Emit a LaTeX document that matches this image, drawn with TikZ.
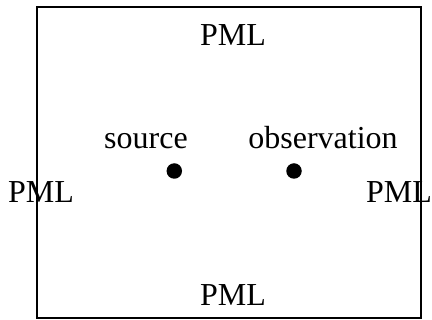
\documentclass[tikz,border=0pt]{standalone}
\usepackage{fontspec}
\setmainfont{Liberation Serif}
\begin{document}
\begin{tikzpicture}[x=1pt,y=-1pt,
  lbl/.style={anchor=base,inner sep=0pt,font=\fontsize{32}{36}\selectfont},
  pt/.style={circle,fill=black,inner sep=0pt,minimum size=15.5pt}]
\useasboundingbox (0,0) rectangle (432,320);
\draw[line width=2pt] (37,7.5) rectangle (420.7,318.5);
\node[lbl] (top) at (233,45.7) {PML};
\node[lbl] (bot) at (233,306) {PML};
\node[lbl] (left) at (41,202.7) {PML};
\node[lbl] (right) at (399,202.7) {PML};
\node[lbl] (srclbl) at (146,149) {source};
\node[lbl] (obslbl) at (323,149) {observation};
\node[pt] (src) at (174.3,171) {};
\node[pt] (obs) at (294,171) {};
\end{tikzpicture}
\end{document}
